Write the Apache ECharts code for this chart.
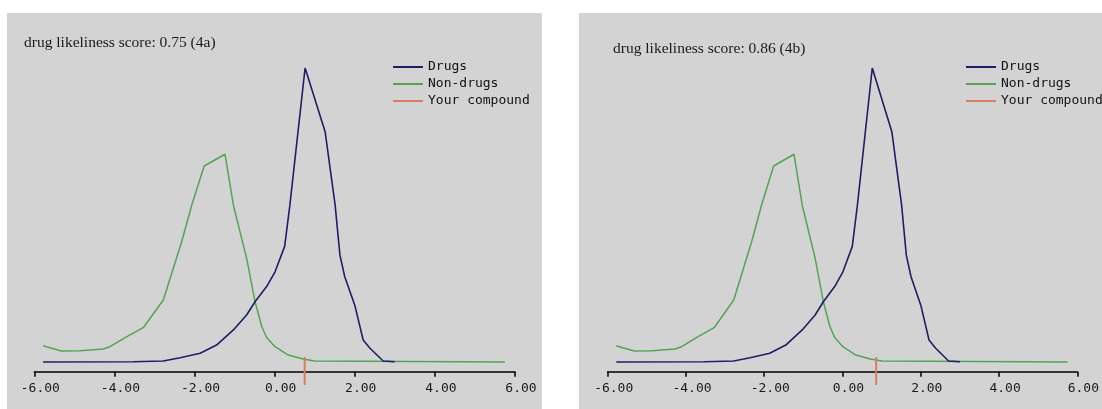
<!DOCTYPE html>
<html><head><meta charset="utf-8">
<script src="https://cdn.jsdelivr.net/npm/echarts@6/dist/echarts.min.js"></script>
<style>html,body{margin:0;padding:0;background:#fff;overflow:hidden}#c{width:1102px;height:409px}</style>
</head><body><div id="c"></div>
<script>
// ---- data ----
const drugsX = [-5.78, -3.53, -2.78, -2.36, -1.86, -1.45, -1.03, -0.70, -0.49, -0.20, 0.01, 0.25, 0.38, 0.76, 1.26, 1.51, 1.63, 1.75, 2.00, 2.21, 2.38, 2.71, 3.00];
const drugsY = [0, 0.03, 0.10, 0.44, 0.89, 1.73, 3.27, 4.80, 6.15, 7.70, 9.20, 11.8, 16.0, 30.0, 23.5, 16.0, 10.9, 8.7, 5.8, 2.24, 1.40, 0.10, 0.03];
const nonDrugsX = [-5.78, -5.61, -5.32, -4.86, -4.28, -4.11, -3.69, -3.28, -2.78, -2.53, -2.32, -2.07, -1.76, -1.24, -1.03, -0.70, -0.49, -0.32, -0.20, 0.01, 0.34, 0.71, 1.00, 5.75];
const nonDrugsY = [1.66, 1.46, 1.12, 1.15, 1.33, 1.56, 2.58, 3.50, 6.33, 9.56, 12.3, 16.0, 20.0, 21.2, 16.0, 10.6, 6.15, 3.6, 2.5, 1.56, 0.71, 0.31, 0.10, 0];
const compoundScores = [0.75, 0.86];
const panelTitles = ['drug likeliness score: 0.75 (4a)', 'drug likeliness score: 0.86 (4b)'];
const seriesNames = ['Drugs', 'Non-drugs', 'Your compound'];
const xTickMin = -6, xTickMax = 6, xTickStep = 2;

// ---- style constants ----
const MARK_TOP = 0.5, MARK_BOTTOM = -2.35;
const colors = ['#1e1e66', '#55a355', '#d4805e'];
const zip = (xs, ys) => xs.map((x, i) => [x, ys[i]]);

const grids = [
  {left: 34.3, top: 58.2, width: 480.7, height: 313.6},
  {left: 607.7, top: 58.2, width: 480, height: 313.6}
];
const mono = 'DejaVu Sans Mono';
const serifTitle = {fontFamily: 'Liberation Serif', fontSize: 15.5, fontWeight: 'normal', color: '#1a1a1a'};

const option = {
  animation: false,
  backgroundColor: '#ffffff',
  graphic: [
    {type: 'rect', z: -10, silent: true, shape: {x: 7, y: 13, width: 535, height: 396}, style: {fill: '#d3d3d3'}},
    {type: 'rect', z: -10, silent: true, shape: {x: 579, y: 13, width: 523, height: 396}, style: {fill: '#d3d3d3'}}
  ],
  title: [
    {text: panelTitles[0], left: 24, top: 35, padding: 0, textStyle: serifTitle},
    {text: panelTitles[1], left: 613, top: 41, padding: 0, textStyle: serifTitle}
  ],
  legend: [393, 966].map(l => ({
    left: l, top: 60, orient: 'vertical', padding: 0, icon: 'rect',
    itemWidth: 30, itemHeight: 2, itemGap: 3, selectedMode: false,
    textStyle: {fontFamily: mono, fontSize: 13, color: '#111', lineHeight: 14},
    data: seriesNames
  })),
  grid: grids,
  xAxis: grids.map((g, i) => ({
    type: 'value', gridIndex: i, min: xTickMin, max: xTickMax, interval: xTickStep,
    splitLine: {show: false},
    axisLine: {onZero: false, lineStyle: {color: '#000', width: 1.5}},
    axisTick: {inside: false, length: 5, lineStyle: {color: '#000', width: 1.5}},
    axisLabel: {formatter: v => v.toFixed(2), fontFamily: mono, fontSize: 13, color: '#1a1a1a', margin: 10, padding: [0, 0, 0, 12]}
  })),
  yAxis: grids.map((g, i) => ({type: 'value', gridIndex: i, min: -1, max: 31, show: false})),
  series: []
};

grids.forEach((g, i) => {
  option.series.push(
    {name: seriesNames[0], type: 'line', xAxisIndex: i, yAxisIndex: i, data: zip(drugsX, drugsY), showSymbol: false, z: 4,
     lineStyle: {color: colors[0], width: 1.6}, itemStyle: {color: colors[0]}},
    {name: seriesNames[1], type: 'line', xAxisIndex: i, yAxisIndex: i, data: zip(nonDrugsX, nonDrugsY), showSymbol: false, z: 3,
     lineStyle: {color: colors[1], width: 1.5}, itemStyle: {color: colors[1]}},
    {name: seriesNames[2], type: 'line', xAxisIndex: i, yAxisIndex: i, clip: false, showSymbol: false, z: 5,
     data: [[compoundScores[i], MARK_TOP], [compoundScores[i], MARK_BOTTOM]],
     lineStyle: {color: colors[2], width: 2}, itemStyle: {color: colors[2]}}
  );
});

const chart = echarts.init(document.getElementById('c'), null, {renderer: 'canvas'});
chart.setOption(option);
</script>
</body></html>
